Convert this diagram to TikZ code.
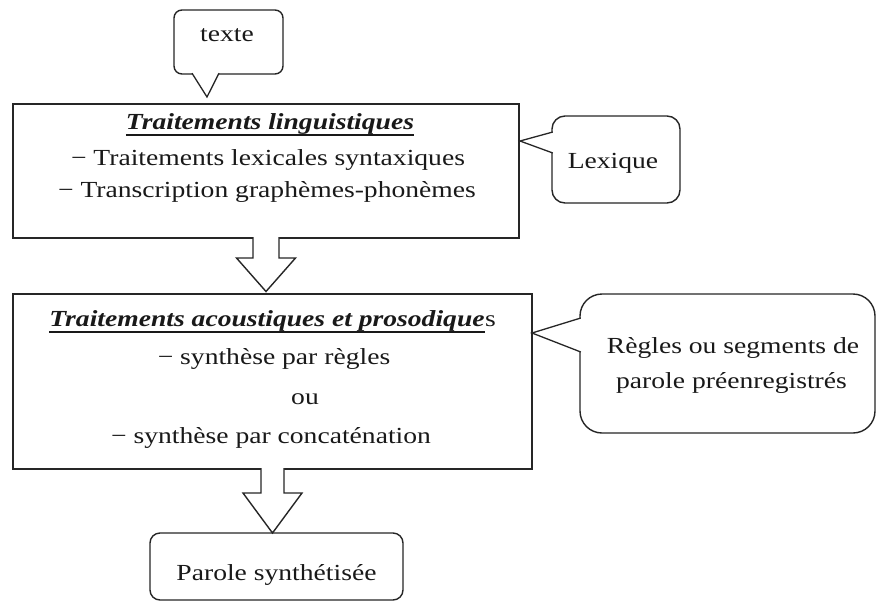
\documentclass[tikz,border=0pt]{standalone}
\usepackage{fontspec}
\setmainfont{Liberation Serif}[FakeStretch=1.2]
\usetikzlibrary{calc}
\begin{document}
\begin{tikzpicture}[x=1pt, y=-1pt,
  frame/.style={draw=black!85, line width=1.4pt, inner sep=0pt, outer sep=0pt, fill=white},
  panel/.style={frame, rectangle},
  bubble/.style={frame, rounded corners=#1},
  txt/.style={anchor=base, inner sep=0pt, text=black!90, font=\fontsize{23}{35}\selectfont},
  heading/.style={txt, font=\fontsize{23}{35}\selectfont\bfseries\itshape},
  underline/.style={draw=black!90, line width=1.6pt},
  blockarrow/.style={draw=black!85, line width=1.4pt, fill=white, line join=miter},
  pointer/.style={draw=black!85, line width=1.3pt, fill=white, line join=miter},
]
\useasboundingbox (0,0) rectangle (876,606);

% main processing panels
\node[panel, minimum width=506pt, minimum height=134pt] (ling) at (266,171) {};
\node[panel, minimum width=519pt, minimum height=175pt] (acou) at (272.5,381.5) {};

% speech bubbles and output box
\node[bubble=8pt, minimum width=109pt, minimum height=64pt] (texte) at (228.5,42) {};
\node[bubble=13pt, minimum width=128pt, minimum height=87pt] (lex) at (616,159.5) {};
\node[bubble=22pt, minimum width=295pt, minimum height=139pt] (regles) at (727.5,363.5) {};
\node[bubble=10pt, minimum width=253pt, minimum height=67pt] (parole) at (276.5,566.5) {};

% bubble tails
\path[pointer] ($(texte.south)+(-36.5,-0.8)$) -- ($(texte.south)+(-21.5,23)$) -- ($(texte.south)+(-9.5,-0.8)$);
\path[pointer] ($(lex.west)+(0.8,-27.5)$) -- ($(lex.west)+(-32,-18.5)$) -- ($(lex.west)+(0.8,-6.5)$);
\path[pointer] ($(regles.west)+(0.8,-45.5)$) -- ($(regles.west)+(-48,-30.5)$) -- ($(regles.west)+(0.8,-11.5)$);

% hollow block arrows between the stages
\path[blockarrow] ($(ling.south)+(-13,-0.8)$) -- ($(ling.south)+(-13,20)$) -- ($(ling.south)+(-29.5,20)$)
  -- ($(ling.south |- acou.north)+(0,-2.5)$)
  -- ($(ling.south)+(29.5,20)$) -- ($(ling.south)+(13,20)$) -- ($(ling.south)+(13,-0.8)$);
\path[blockarrow] ($(acou.south)+(-11.5,-0.8)$) -- ($(acou.south)+(-11.5,24)$) -- ($(acou.south)+(-29.5,24)$)
  -- (acou.south |- parole.north)
  -- ($(acou.south)+(29.5,24)$) -- ($(acou.south)+(11.5,24)$) -- ($(acou.south)+(11.5,-0.8)$);

% texts
\node[txt] (ttexte) at (227,41.5) {texte};
\node[heading] (lingtitle) at (270,129) {Traitements linguistiques};
\draw[underline] ($(lingtitle.base west)+(0,6)$) -- ($(lingtitle.base east)+(0,6)$);
\node[txt] (ling1) at (268,165) {− Traitements lexicales syntaxiques};
\node[txt] (ling2) at (267,197) {− Transcription graphèmes-phonèmes};
\node[txt] (tlex) at (613,168) {Lexique};

\node[heading] (acoutitle) at (267,326) {Traitements acoustiques et prosodique};
\node[txt, anchor=base west] (acoutail) at (acoutitle.base east) {s};
\draw[underline] ($(acoutitle.base west)+(0,6)$) -- ($(acoutitle.base east)+(0,6)$);
\node[txt] (acou1) at (274,364) {− synthèse par règles};
\node[txt] (acou2) at (305,404) {ou};
\node[txt] (acou3) at (271,443) {− synthèse par concaténation};

\node[txt] (regles1) at (733,353) {Règles ou segments de};
\node[txt] (regles2) at (731.5,388) {parole préenregistrés};
\node[txt] (tparole) at (276.5,580) {Parole synthétisée};
\end{tikzpicture}
\end{document}
